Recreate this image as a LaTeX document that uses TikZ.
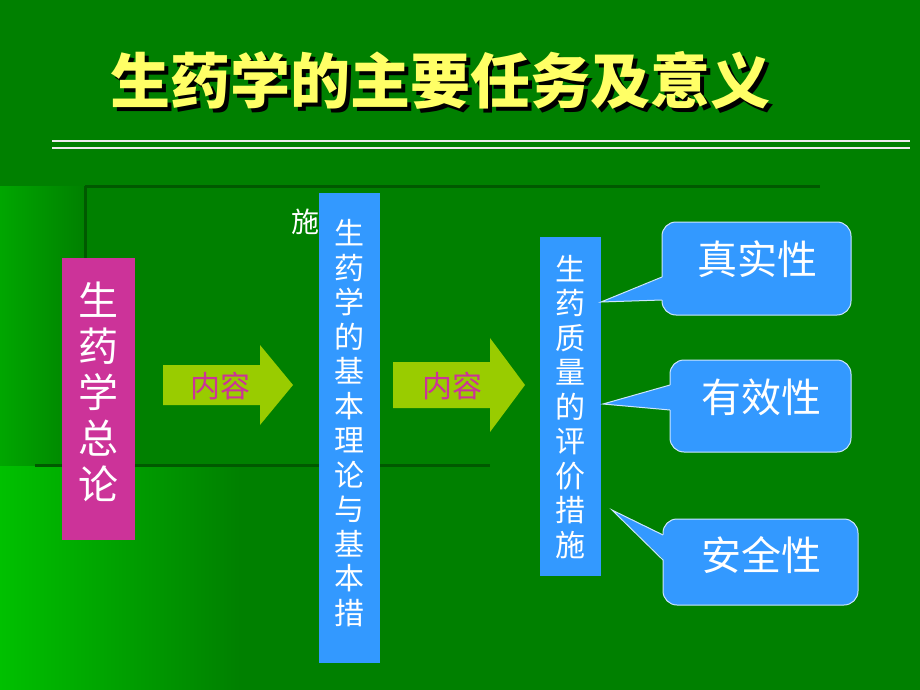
\documentclass[tikz,border=0pt]{standalone}
\usepackage{fontspec}
\setmainfont{Noto Sans CJK SC}
\usetikzlibrary{positioning}
\definecolor{bggreen}{HTML}{008000}
\definecolor{boxpink}{HTML}{CC3399}
\definecolor{boxblue}{HTML}{3399FF}
\definecolor{arrowgreen}{HTML}{99CC00}
\definecolor{titleyellow}{HTML}{FFFF66}
\definecolor{lightgreen}{HTML}{00C000}
\tikzset{
  vbox/.style={fill=#1,draw=none,inner sep=0pt,text=white,align=center},
  bigarrow/.style={fill=arrowgreen,draw=none},
  arrow text/.style={text=boxpink,font=\fontsize{30}{32}\selectfont},
  callout/.style={fill=boxblue,draw=white!75!boxblue,line width=1pt,rounded corners=14pt},
  pointer/.style={fill=boxblue,draw=none},
  pointer edge/.style={draw=white!75!boxblue,line width=1pt},
  callout text/.style={text=white,font=\fontsize{40}{42}\selectfont}
}
\begin{document}
\begin{tikzpicture}[x=1pt,y=-1pt]
\useasboundingbox (0,0) rectangle (920,690);
% background
\fill[bggreen] (0,0) rectangle (920,690);
\shade[left color=lightgreen,right color=bggreen] (0,465) rectangle (240,690);
\shade[left color=lightgreen!60!bggreen,right color=bggreen] (0,186) rectangle (85,465);
\draw[green!35!black,line width=3pt] (85,186) -- (820,186);
\draw[green!35!black,line width=3pt] (85,186) -- (85,465);
\draw[green!35!black,line width=3pt] (35,465) -- (490,465);
% title
\node[text=black,font=\fontsize{60}{62}\selectfont\bfseries] at (444,84) {生药学的主要任务及意义};
\node[text=titleyellow,font=\fontsize{60}{62}\selectfont\bfseries] (title) at (440,80) {生药学的主要任务及意义};
\draw[white!85!gray,line width=2pt] (52,141) -- (910,141);
\draw[white!85!gray,line width=2pt] (52,148) -- (910,148);
% boxes
\fill[boxpink] (62,258) rectangle (135,540);
\node[vbox=boxpink,font=\fontsize{40}{46}\selectfont] (zonglun) at (98.5,392) {生\\药\\学\\总\\论};
\fill[boxblue] (319,193) rectangle (380,663);
\node[vbox=boxblue,font=\fontsize{30}{34.5}\selectfont] (lilun) at (349.5,423) {生\\药\\学\\的\\基\\本\\理\\论\\与\\基\\本\\措};
\node[text=white,font=\fontsize{28}{30}\selectfont] (shi) at (305,222) {施};
\fill[boxblue] (540,237) rectangle (601,576);
\node[vbox=boxblue,font=\fontsize{30}{34.5}\selectfont] (pingjia) at (570.5,407) {生\\药\\质\\量\\的\\评\\价\\措\\施};
% arrows
\fill[bigarrow] (163,365) -- (260,365) -- (260,345) -- (293,385) -- (260,425) -- (260,405) -- (163,405) -- cycle;
\node[arrow text] (neirong1) at (220,386) {内容};
\fill[bigarrow] (393,362) -- (490,362) -- (490,338) -- (525,385) -- (490,432) -- (490,408) -- (393,408) -- cycle;
\node[arrow text] (neirong2) at (452,386) {内容};
% callouts
\draw[callout] (662,222) rectangle (851,315);
\fill[pointer] (663,277) -- (601,302) -- (663,300) -- cycle;
\draw[pointer edge] (662,277) -- (601,302) -- (662,300);
\node[callout text] (zhenshi) at (757,259) {真实性};
\draw[callout] (670,360) rectangle (851,452);
\fill[pointer] (671,385) -- (603,404) -- (671,410) -- cycle;
\draw[pointer edge] (670,385) -- (603,404) -- (670,410);
\node[callout text] (youxiao) at (761,397) {有效性};
\draw[callout] (663,519) rectangle (858,605);
\fill[pointer] (664,535) -- (612,510) -- (664,560) -- cycle;
\draw[pointer edge] (663,535) -- (612,510) -- (663,560);
\node[callout text] (anquan) at (761,555) {安全性};
\end{tikzpicture}
\end{document}
